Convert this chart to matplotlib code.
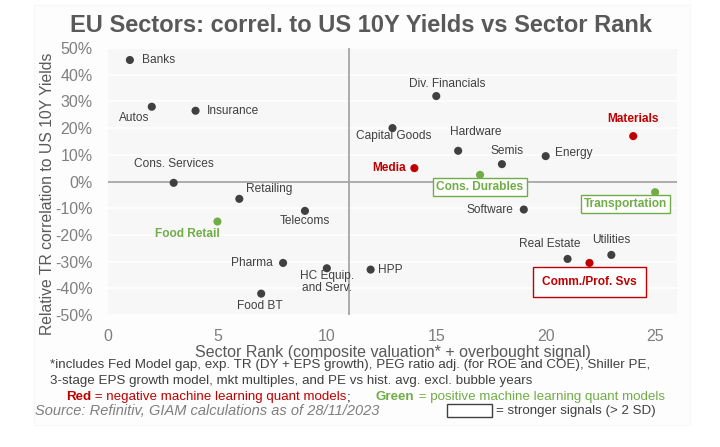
import matplotlib.pyplot as plt
from matplotlib.patches import Rectangle
from matplotlib.ticker import FuncFormatter

plt.rcParams["font.family"] = ["Liberation Sans", "DejaVu Sans"]

# sector, rank, correlation (%)
sectors = ["Banks", "Autos", "Insurance", "Cons. Services", "Food Retail", "Retailing",
           "Food BT", "Pharma", "Telecoms", "HC Equip.\nand Serv.", "HPP", "Capital Goods",
           "Media", "Div. Financials", "Hardware", "Cons. Durables", "Semis", "Software",
           "Energy", "Real Estate", "Comm./Prof. Svs", "Utilities", "Materials", "Transportation"]
rank = [1, 2, 4, 3, 5, 6, 7, 8, 9, 10, 12, 13, 14, 15, 16, 17, 18, 19, 20, 21, 22, 23, 24, 25]
correl = [45.5, 28, 26.5, -0.5, -15, -6.5, -42, -30.5, -11, -32.5, -33, 20, 5, 32, 11.5,
          2.5, 6.5, -10.5, 9.5, -29, -30.5, -27.5, 17, -4]
signal = ["n", "n", "n", "n", "g", "n", "n", "n", "n", "n", "n", "n",
          "r", "n", "n", "g", "n", "n", "n", "n", "r", "n", "r", "g"]
strong = ["Cons. Durables", "Transportation", "Comm./Prof. Svs"]

# label offsets in pixels (dx, dy, ha)
offsets = {
    "Banks": (12, 0, "left"), "Autos": (-18, -11, "center"), "Insurance": (11, 0, "left"),
    "Cons. Services": (0, 19, "center"), "Food Retail": (2, -12, "right"),
    "Retailing": (7, 10, "left"), "Food BT": (-1, -12, "center"), "Pharma": (-10, 0, "right"),
    "Telecoms": (0, -10, "center"), "HC Equip.\nand Serv.": (0, -14, "center"),
    "HPP": (7, 0, "left"), "Capital Goods": (1, -8, "center"), "Media": (-9, 0, "right"),
    "Div. Financials": (11, 12, "center"), "Hardware": (18, 19, "center"),
    "Cons. Durables": (0, -12, "center"), "Semis": (5, 13, "center"),
    "Software": (-10, 0, "right"), "Energy": (9, 3, "left"), "Real Estate": (-18, 15, "center"),
    "Comm./Prof. Svs": (0, -19, "center"), "Utilities": (0, 15, "center"),
    "Materials": (0, 17, "center"), "Transportation": (-30, -12, "center"),
}

colors = {"n": "#404040", "r": "#c00000", "g": "#70ad47"}

fig = plt.figure(figsize=(7.2, 4.47), dpi=100)
fig.patches.append(Rectangle((34 / 720, 22 / 447), 656 / 720, 420 / 447, transform=fig.transFigure,
                             facecolor="#fdfdfd", edgecolor="#f7f7f7", lw=0.8, zorder=-5))
ax = fig.add_axes([108 / 720, 1 - 315 / 447, 569 / 720, 267 / 447])
ax.set_facecolor("#f7f7f7")

ax.set_xlim(0, 26)
ax.set_ylim(-50, 50)
ax.set_xticks([0, 5, 10, 15, 20, 25])
ax.set_yticks(range(-50, 51, 10))
ax.yaxis.set_major_formatter(FuncFormatter(lambda v, p: f"{v:.0f}%"))
ax.grid(axis="y", color="white", lw=1.2)
ax.set_axisbelow(True)
for s in ax.spines.values():
    s.set_visible(False)
ax.tick_params(length=0, labelsize=11.5, labelcolor="#7f7f7f")
ax.tick_params(axis="y", pad=11)
ax.tick_params(axis="x", pad=10)
ax.axhline(0, color="#a6a6a6", lw=1.3, zorder=1)
ax.axvline(11, color="#a6a6a6", lw=1.3, zorder=1)

for name, x, y, sg in zip(sectors, rank, correl, signal):
    c = colors[sg]
    ax.scatter(x, y, s=34, color=c, zorder=3, edgecolors="none")
    dx, dy, ha = offsets[name]
    bold = sg != "n"
    box = None
    if name in strong:
        pad = 0.75 if name == "Comm./Prof. Svs" else 0.25
        box = dict(boxstyle=f"square,pad={pad}", facecolor="white", edgecolor=c, lw=1.0)
    ax.annotate(name, (x, y), xytext=(dx, dy), textcoords="offset pixels", ha=ha, va="center",
                fontsize=8.6, color=c if bold else "#404040", fontweight="bold" if bold else "normal",
                linespacing=1.0, bbox=box, zorder=4)

ax.set_xlabel("Sector Rank (composite valuation* + overbought signal)", fontsize=11.5,
              color="#595959", labelpad=1)
ax.set_ylabel("Relative TR correlation to US 10Y Yields", fontsize=11.3, color="#595959")
ax.yaxis.set_label_coords(-0.093, 0.455)

fig.text(0.502, 1 - 26 / 447, "EU Sectors: correl. to US 10Y Yields vs Sector Rank", ha="center",
         va="center", fontsize=17, fontweight="bold", color="#595959")

fs = 9.6
fig.text(50 / 720, 1 - 365 / 447, "*includes Fed Model gap, exp. TR (DY + EPS growth), PEG ratio adj. "
         "(for ROE and COE), Shiller PE,", fontsize=fs, color="#404040", va="center")
fig.text(50 / 720, 1 - 381 / 447, "3-stage EPS growth model, mkt multiples, and PE vs hist. avg. "
         "excl. bubble years", fontsize=fs, color="#404040", va="center")

renderer = fig.canvas.get_renderer()


def run_text(x0, y, pieces):
    # draw text pieces one after another on one line
    x = x0
    for txt, col, wt in pieces:
        t = fig.text(x / 720, 1 - y / 447, txt, fontsize=fs, color=col, fontweight=wt, va="center")
        x += t.get_window_extent(renderer).width


run_text(66, 397, [("Red", "#c00000", "bold"),
                   (" = negative machine learning quant models", "#c00000", "normal"),
                   (";", "#000000", "normal")])
run_text(376, 397, [("Green", "#70ad47", "bold"),
                    (" = positive machine learning quant models", "#70ad47", "normal")])

fig.text(35 / 720, 1 - 411 / 447, "Source: Refinitiv, GIAM calculations as of 28/11/2023", fontsize=10.5,
         color="#7f7f7f", style="italic", va="center")
fig.patches.append(Rectangle((447 / 720, 1 - 417 / 447), 45 / 720, 13 / 447, transform=fig.transFigure,
                             facecolor="white", edgecolor="#404040", lw=1.0))
fig.text(496 / 720, 1 - 411 / 447, "= stronger signals (> 2 SD)", fontsize=fs, color="#404040",
         va="center")

fig.savefig("out.png", dpi=100)
